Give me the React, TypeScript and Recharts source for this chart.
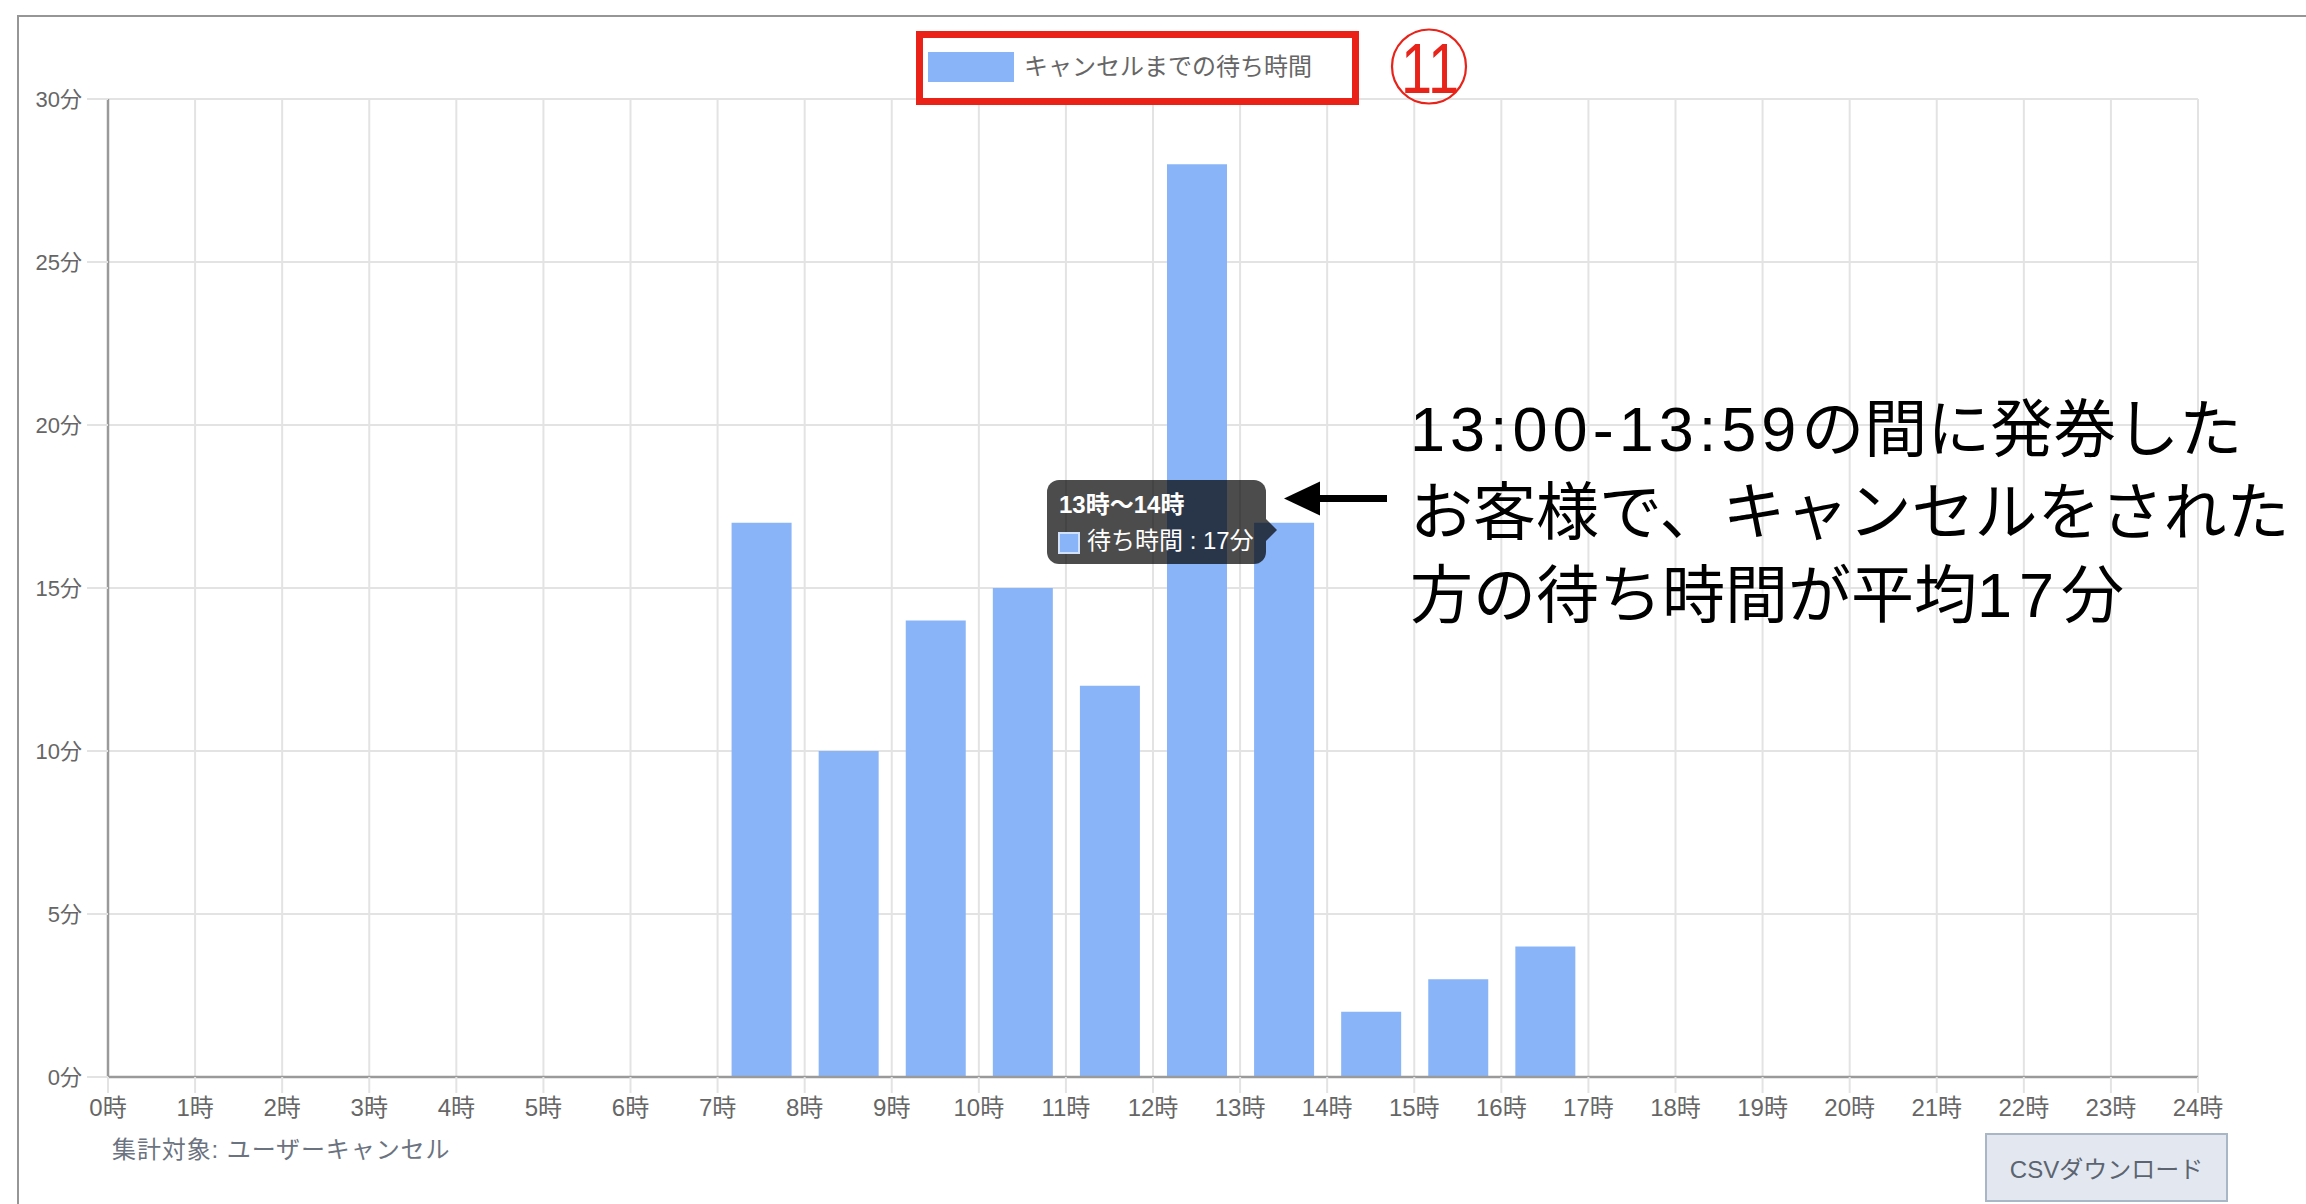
import React from 'react';
import { BarChart, Bar, XAxis, YAxis, CartesianGrid, Tooltip, Legend } from 'recharts';

// ---- data ----
const hourStarts = [0, 1, 2, 3, 4, 5, 6, 7, 8, 9, 10, 11, 12, 13, 14, 15, 16, 17, 18, 19, 20, 21, 22, 23];
const waitMinutes = [0, 0, 0, 0, 0, 0, 0, 17, 10, 14, 15, 12, 28, 17, 2, 3, 4, 0, 0, 0, 0, 0, 0, 0];
const xTicks = [0, 1, 2, 3, 4, 5, 6, 7, 8, 9, 10, 11, 12, 13, 14, 15, 16, 17, 18, 19, 20, 21, 22, 23, 24];
const yTicks = [0, 5, 10, 15, 20, 25, 30];
const seriesName = 'キャンセルまでの待ち時間';
const tooltipName = '待ち時間';
const footnote = '集計対象: ユーザーキャンセル';
const buttonLabel = 'CSVダウンロード';
const highlightedIndex = 13;
const annotationLine1 = ['13:00-13:59', 'の間に発券した'];
const annotationLine2 = 'お客様で、キャンセルをされた';
const annotationLine3 = ['方の待ち時間が平均', '17', '分'];
const badgeText = '11';

const data = hourStarts.map((h, i) => ({
  mid: h + 0.5,
  value: waitMinutes[i],
  range: `${h}時〜${h + 1}時`,
}));

const FONT = '"Liberation Sans", "Noto Sans CJK JP", sans-serif';
const BAR = '#8ab4f8';

const TipContent = (props: any) => {
  const { active, payload } = props;
  if (!active || !payload || !payload.length) return null;
  const p = payload[0].payload;
  return (
    <div style={{ position: 'relative', width: 219, height: 84, background: 'rgba(0,0,0,0.7)', borderRadius: 12, color: '#fff', fontSize: 24, fontFamily: FONT }}>
      <div style={{ position: 'absolute', left: 12, top: 10, lineHeight: '30px', fontWeight: 'bold', whiteSpace: 'nowrap' }}>{p.range}</div>
      <div style={{ position: 'absolute', left: 11, top: 52, width: 22, height: 22, background: BAR, border: '2px solid #d2e2fc', boxSizing: 'border-box' }} />
      <div style={{ position: 'absolute', left: 40, top: 46, lineHeight: '30px', whiteSpace: 'nowrap' }}>{`${tooltipName} : ${p.value}分`}</div>
      <div style={{ position: 'absolute', left: 219, top: 39, width: 0, height: 0, borderTop: '11px solid transparent', borderBottom: '11px solid transparent', borderLeft: '11px solid rgba(0,0,0,0.7)' }} />
    </div>
  );
};

const LegendContent = (props: any) => {
  const item = props.payload && props.payload[0];
  const label = item ? item.value : seriesName;
  const color = item && item.color ? item.color : BAR;
  return (
    <div style={{ position: 'relative', width: 443, height: 74, fontFamily: FONT }}>
      <div style={{ position: 'absolute', left: 0, top: 0, width: 443, height: 74, border: '7.5px solid #ea2116', boxSizing: 'border-box' }} />
      <div style={{ position: 'absolute', left: 12, top: 21, width: 86, height: 30, background: color }} />
      <div style={{ position: 'absolute', left: 108, top: 21, lineHeight: '30px', fontSize: 24, color: '#666', whiteSpace: 'nowrap' }}>{label}</div>
    </div>
  );
};

export default function App() {
  return (
    <div style={{ position: 'absolute', left: 0, top: 0, width: 2306, height: 1204, overflow: 'hidden', background: '#fff', fontFamily: FONT }}>
      {/* frame */}
      <div style={{ position: 'absolute', left: 17, top: 15, width: 2400, height: 1400, borderTop: '2.5px solid #969696', borderLeft: '2.5px solid #969696' }} />

      <div style={{ position: 'absolute', left: 0, top: 0 }}>
        <BarChart width={2306} height={1204} data={data} margin={{ top: 99, right: 108, bottom: 0, left: 0 }}>
          <CartesianGrid stroke="#e3e3e3" strokeWidth={2} />
          <XAxis
            type="number"
            dataKey="mid"
            domain={[0, 24]}
            ticks={xTicks}
            interval={0}
            height={127}
            tickFormatter={(v: number) => `${v}時`}
            tick={{ fontSize: 24, fill: '#666' }}
            tickSize={16}
            tickMargin={6}
            tickLine={{ stroke: '#e3e3e3', strokeWidth: 2 }}
            axisLine={{ stroke: '#9a9a9a', strokeWidth: 2.5 }}
          />
          <YAxis
            type="number"
            domain={[0, 30]}
            ticks={yTicks}
            interval={0}
            width={108}
            tickFormatter={(v: number) => `${v}分`}
            tick={{ fontSize: 22, fill: '#666' }}
            tickSize={21}
            tickMargin={5}
            tickLine={{ stroke: '#e3e3e3', strokeWidth: 2 }}
            axisLine={{ stroke: '#9a9a9a', strokeWidth: 2.5 }}
          />
          <Legend
            verticalAlign="middle"
            align="center"
            layout="horizontal"
            content={LegendContent}
            wrapperStyle={{ position: 'absolute', left: 916, top: 31, width: 443, height: 74 }}
          />
          <Tooltip
            active
            defaultIndex={highlightedIndex}
            position={{ x: 1047, y: 480 }}
            cursor={false}
            content={TipContent}
            wrapperStyle={{ outline: 'none' }}
            isAnimationActive={false}
          />
          <Bar dataKey="value" name={seriesName} fill={BAR} barSize={60} isAnimationActive={false} />
        </BarChart>
      </div>

      {/* annotation overlay */}
      <svg width={2306} height={1204} style={{ position: 'absolute', left: 0, top: 0, pointerEvents: 'none' }}>
        <ellipse cx={1429} cy={66.5} rx={37} ry={37} fill="none" stroke="#e8231a" strokeWidth={2.2} />
        <text x={1401} y={92.7} fontSize={70} fill="#e8231a" textLength={58} lengthAdjust="spacingAndGlyphs" style={{ fontFamily: '"Liberation Sans", sans-serif' }}>{badgeText}</text>
        <line x1={1315} y1={498.5} x2={1387} y2={498.5} stroke="#000" strokeWidth={7} />
        <polygon points="1284,498.5 1320,481.5 1320,515.5" fill="#000" />
      </svg>

      <div style={{ position: 'absolute', left: 1410, top: 388, fontSize: 63, lineHeight: '83px', color: '#000', whiteSpace: 'nowrap' }}>
        <div><span style={{ letterSpacing: 5 }}>{annotationLine1[0]}</span>{annotationLine1[1]}</div>
        <div>{annotationLine2}</div>
        <div>{annotationLine3[0]}<span style={{ letterSpacing: 7 }}>{annotationLine3[1]}</span>{annotationLine3[2]}</div>
      </div>

      <div style={{ position: 'absolute', left: 112, top: 1135, fontSize: 24, lineHeight: '30px', letterSpacing: 0.9, color: '#6b7380', whiteSpace: 'nowrap' }}>{footnote}</div>

      <div style={{ position: 'absolute', left: 1985, top: 1133, width: 243, height: 69, boxSizing: 'border-box', background: '#e3e8f0', border: '2px solid #a9b6c5', display: 'flex', alignItems: 'center', justifyContent: 'center', fontSize: 24, color: '#5b6470', whiteSpace: 'nowrap' }}>{buttonLabel}</div>
    </div>
  );
}
